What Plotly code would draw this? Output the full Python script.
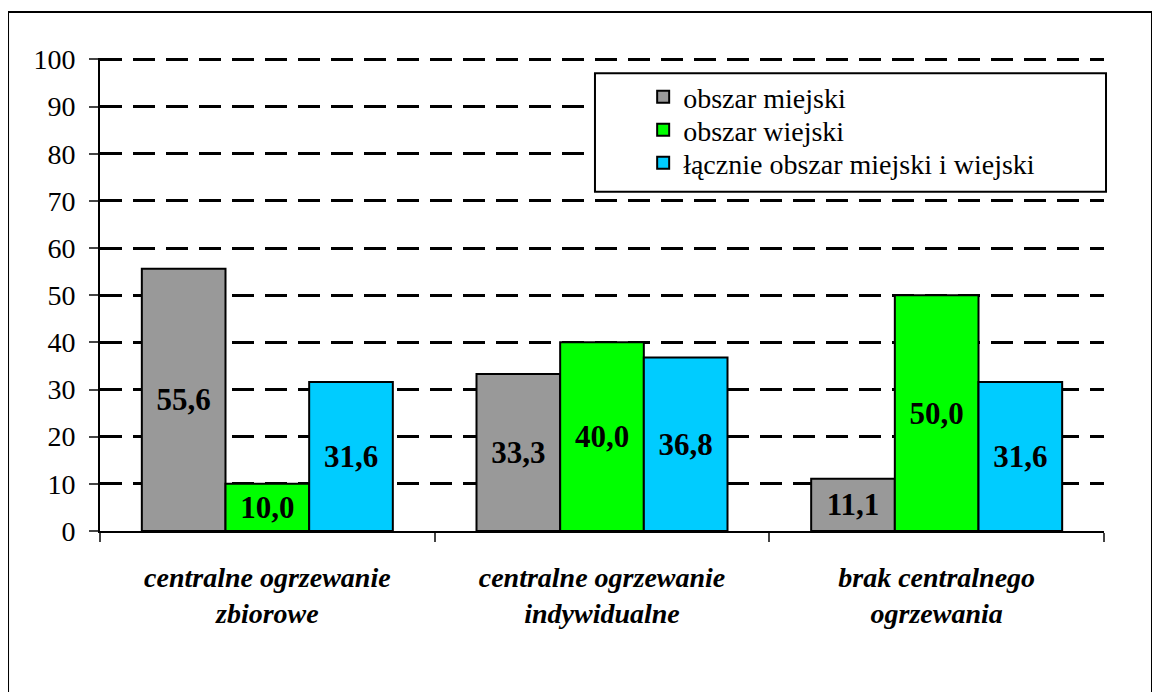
import plotly.graph_objects as go

categories = ["centralne ogrzewanie<br>zbiorowe", "centralne ogrzewanie<br>indywidualne", "brak centralnego<br>ogrzewania"]
series_names = ["obszar miejski", "obszar wiejski", "łącznie obszar miejski i wiejski"]
urban = [55.6, 33.3, 11.1]
rural = [10.0, 40.0, 50.0]
total = [31.6, 36.8, 31.6]
colors = ["#999999", "#00FF00", "#00CCFF"]
y_ticks = [0, 10, 20, 30, 40, 50, 60, 70, 80, 90, 100]

FONT = "Liberation Serif"

fig = go.Figure()
legend_ids = ["legend", "legend2", "legend3"]
for name, vals, col, lg in zip(series_names, [urban, rural, total], colors, legend_ids):
    fig.add_trace(go.Bar(
        name=name, x=categories, y=vals, legend=lg,
        marker=dict(color=col, line=dict(color="black", width=2)),
        text=[f"{v:.1f}".replace(".", ",") for v in vals],
        textposition="inside", insidetextanchor="middle",
        textangle=0,
        textfont=dict(family=FONT, size=31, color="black", weight="bold"),
        cliponaxis=False,
    ))

legend_style = dict(
    x=0.541, xanchor="left", yanchor="middle",
    bgcolor="rgba(0,0,0,0)", borderwidth=0,
    font=dict(family=FONT, size=28, color="black"),
)

fig.update_layout(
    width=1152, height=684,
    paper_bgcolor="white", plot_bgcolor="white",
    margin=dict(l=92, r=56, t=50, b=161),
    barmode="group", bargap=0.25, bargroupgap=0,
    font=dict(family=FONT, color="black"),
    uniformtext=dict(mode=False),
    legend=dict(y=0.9175, **legend_style),
    legend2=dict(y=0.8478, **legend_style),
    legend3=dict(y=0.778, **legend_style),
    showlegend=True,
)
fig.update_yaxes(
    range=[0, 100.3], tickvals=y_ticks, ticks="outside", ticklen=9, tickwidth=2,
    showline=True, linecolor="black", linewidth=2,
    showgrid=True, gridcolor="black", gridwidth=3, griddash="22px,11px",
    tickfont=dict(family=FONT, size=28, color="black"),
    ticklabelstandoff=8,
    zeroline=False, fixedrange=True,
)
fig.update_xaxes(
    ticks="outside", tickson="boundaries", ticklen=9, tickwidth=2,
    showline=True, linecolor="black", linewidth=2,
    tickfont=dict(family=FONT, size=28, color="black", weight="bold", style="italic"),
    ticklabelstandoff=20,
    showgrid=False,
)
# outer chart border
fig.add_shape(type="rect", xref="paper", yref="paper",
              x0=-0.0916, x1=1.0478, y0=-0.5, y1=1.0973,
              line=dict(color="black", width=2), fillcolor="rgba(0,0,0,0)", layer="below")
# legend box
fig.add_shape(type="rect", xref="paper", yref="paper",
              x0=0.493, x1=1.002, y0=0.717, y1=0.968,
              line=dict(color="black", width=2), fillcolor="white", layer="above")

fig.write_html("out.html")
